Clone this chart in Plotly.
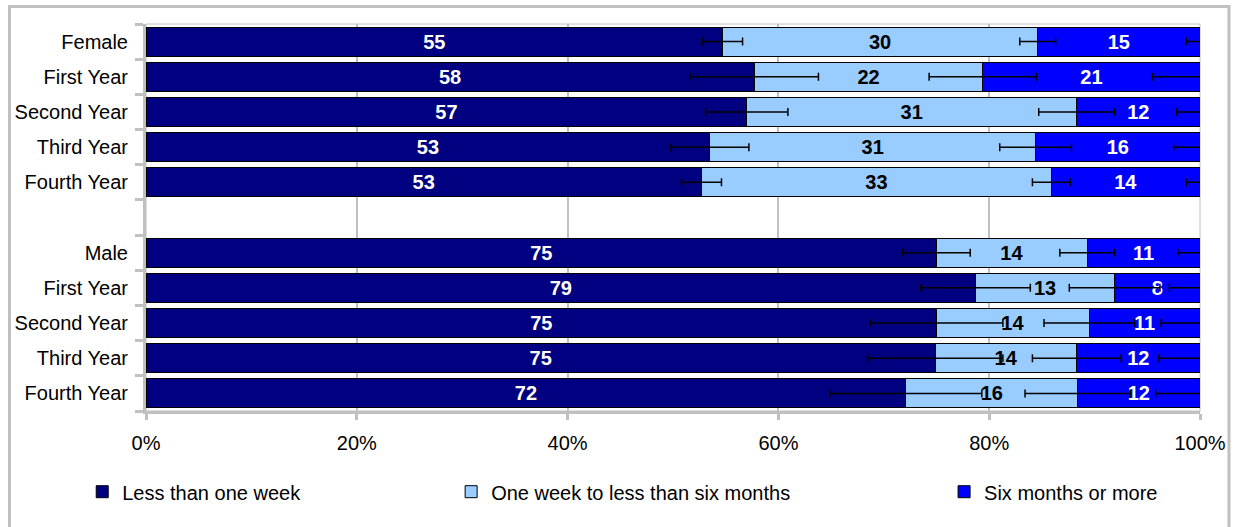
import numpy as np
import plotly.graph_objects as go

# row labels (top block = female, bottom block = male)
rows = ["Female", "First Year", "Second Year", "Third Year", "Fourth Year",
        "Male", "First Year", "Second Year", "Third Year", "Fourth Year"]

series_names = ["Less than one week", "One week to less than six months", "Six months or more"]

# bar lengths (%)
less_week = [54.7, 57.7, 57.0, 53.5, 52.7, 75.0, 78.7, 75.0, 74.9, 72.1]
week_to_six = [29.9, 21.7, 31.3, 30.9, 33.2, 14.3, 13.2, 14.5, 13.4, 16.3]
six_plus = [15.4, 20.6, 11.7, 15.6, 14.1, 10.7, 8.1, 10.5, 11.7, 11.6]

# printed data labels
less_week_lbl = [55, 58, 57, 53, 53, 75, 79, 75, 75, 72]
week_to_six_lbl = [30, 22, 31, 31, 33, 14, 13, 14, 14, 16]
six_plus_lbl = [15, 21, 12, 16, 14, 11, 8, 11, 12, 12]

# +/- error (percentage points)
less_week_err = [1.9, 6.1, 3.9, 3.7, 1.9, 3.2, 5.2, 6.3, 6.4, 7.2]
week_to_six_err = [1.7, 5.1, 3.6, 3.4, 1.8, 2.6, 4.3, 4.3, 4.2, 5.0]
six_plus_err = [1.3, 4.5, 2.2, 2.5, 1.3, 2.1, 2.9, 3.7, 3.9, 4.2]

x_ticks = [0, 20, 40, 60, 80, 100]
x_tick_text = ["0%", "20%", "40%", "60%", "80%", "100%"]

FONT = "Liberation Sans, Arial, sans-serif"
colors = ["#000080", "#99CCFF", "#0000FF"]
text_colors = ["white", "black", "white"]
legend_ids = ["legend", "legend2", "legend3"]

# one empty slot between the two blocks
slot = list(range(5)) + list(range(6, 11))

values = [less_week, week_to_six, six_plus]
labels = [less_week_lbl, week_to_six_lbl, six_plus_lbl]
errors = [less_week_err, week_to_six_err, six_plus_err]

fig = go.Figure()

for i in range(3):
    fig.add_trace(go.Bar(
        y=slot, x=values[i], orientation="h",
        name=series_names[i],
        marker=dict(color=colors[i], line=dict(color="black", width=1)),
        text=[str(v) for v in labels[i]],
        textposition="inside", insidetextanchor="middle", textangle=0,
        textfont=dict(color=text_colors[i], size=20, family=FONT, weight="bold"),
        legend=legend_ids[i],
        hoverinfo="skip",
    ))

# error bars drawn on top, at the end of each stacked segment
ends = np.cumsum(np.array(values), axis=0)
for i in range(3):
    fig.add_trace(go.Scatter(
        x=ends[i], y=slot, mode="markers",
        marker=dict(size=1, opacity=0),
        error_x=dict(type="data", array=errors[i], color="black", thickness=1.5, width=4),
        showlegend=False, hoverinfo="skip",
    ))

leg_common = dict(orientation="h", y=-0.2085, yanchor="middle", xanchor="left",
                  font=dict(size=20, family=FONT, color="black"),
                  bgcolor="rgba(0,0,0,0)")

fig.update_layout(
    width=1238, height=527,
    margin=dict(l=146, r=38, t=24, b=116),
    barmode="stack",
    bargap=0.176,
    plot_bgcolor="white",
    paper_bgcolor="white",
    font=dict(family=FONT, size=20, color="black"),
    xaxis=dict(
        range=[0, 100], tickvals=x_ticks, ticktext=x_tick_text,
        showgrid=True, gridcolor="#c0c0c0", gridwidth=1.5,
        showline=True, linecolor="#c0c0c0", linewidth=3,
        ticks="outside", ticklen=6, tickwidth=3, tickcolor="#c0c0c0",
        ticklabelstandoff=6,
        zeroline=False, tickfont=dict(size=20),
    ),
    yaxis=dict(
        range=[10.5, -0.5], tickvals=slot, ticktext=rows,
        showgrid=False, zeroline=False,
        showline=True, linecolor="#c0c0c0", linewidth=3,
        ticks="", ticklabelstandoff=11, tickfont=dict(size=20),
        minor=dict(tickmode="array", tickvals=[k - 0.5 for k in range(12)],
                   ticks="outside", ticklen=8, tickwidth=3, tickcolor="#c0c0c0",
                   showgrid=False),
    ),
    legend=dict(x=-0.0605, **leg_common),
    legend2=dict(x=0.2895, **leg_common),
    legend3=dict(x=0.7572, **leg_common),
    shapes=[
        # plot area border
        dict(type="rect", xref="paper", yref="paper", x0=0, x1=1, y0=0, y1=1,
             line=dict(color="#c0c0c0", width=1), layer="below"),
        # chart frame
        dict(type="rect", xref="paper", yref="paper", x0=-0.1295, x1=1.0275,
             y0=-0.34, y1=1.0452, line=dict(color="#c0c0c0", width=3)),
    ],
    showlegend=True,
)

# drop the default page margin so the figure sits at the window's corner
fig.write_html("out.html", config={"displayModeBar": False},
               post_script="document.body.style.margin = '0px';")
